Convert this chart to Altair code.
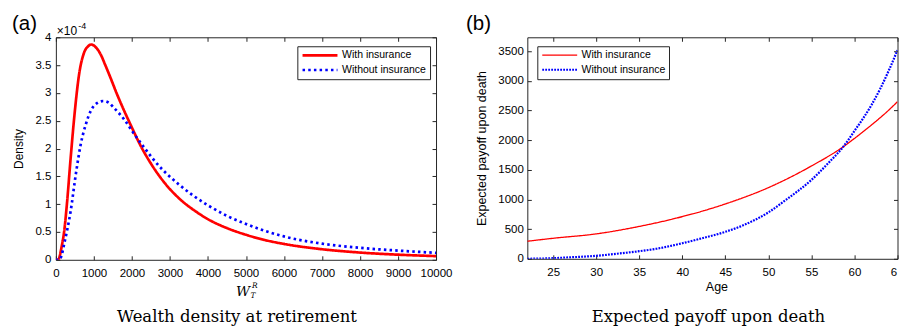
import altair as alt
import pandas as pd

# ---------------- data: panel (a) wealth density (units of 1e-4) ----------------
W_RED = [0, 60, 150, 220, 290, 390, 500, 610, 740, 850, 930, 1050, 1180, 1300, 1450,
         1600, 1750, 1970, 2230, 2500, 2840, 3280, 3700, 4000, 4500, 5000, 5500,
         6000, 7000, 8000, 9000, 10000]
D_RED = [0, 0, 0.23, 0.52, 1.0, 1.84, 2.68, 3.33, 3.72, 3.84, 3.87, 3.82, 3.69, 3.5, 3.25,
         2.99, 2.75, 2.42, 2.05, 1.73, 1.40, 1.08, 0.86, 0.73, 0.57, 0.45, 0.355,
         0.285, 0.19, 0.13, 0.092, 0.066]
W_BLUE = [0, 100, 150, 220, 390, 525, 655, 790, 920, 1090, 1250, 1400, 1530, 1790, 2060,
          2320, 2670, 3020, 3280, 3600, 4000, 4500, 5000, 5500, 6000, 7000, 8000, 9000, 10000]
D_BLUE = [0, 0, 0.08, 0.29, 0.88, 1.54, 2.08, 2.44, 2.68, 2.82, 2.855, 2.82, 2.73, 2.53, 2.26,
          2.02, 1.72, 1.48, 1.33, 1.16, 0.98, 0.79, 0.645, 0.52, 0.42, 0.29, 0.215, 0.165, 0.125]

# ---------------- data: panel (b) expected payoff upon death ----------------
AGE_RED = [22, 25, 30, 35, 40, 45, 50, 55, 58.7, 60, 62, 64, 65]
PAY_RED = [296, 346, 420, 546, 711, 925, 1200, 1565, 1890, 2030, 2260, 2510, 2650]
AGE_BLUE = [22, 25, 27, 30, 33, 35, 37, 40, 42, 45, 47, 50, 52, 55, 57, 58.7, 60, 62, 63, 64, 65]
PAY_BLUE = [0, 10, 25, 50, 95, 128, 170, 262, 335, 455, 560, 783, 990, 1330, 1620, 1890,
            2156, 2600, 2870, 3180, 3520]

SERIES = ["With insurance", "Without insurance"]
COLORS = ["#ff0000", "#0000ff"]

X_TICKS_A = [0, 1000, 2000, 3000, 4000, 5000, 6000, 7000, 8000, 9000, 10000]
Y_TICKS_A = [0, 0.5, 1, 1.5, 2, 2.5, 3, 3.5, 4]
X_TICKS_B = [25, 30, 35, 40, 45, 50, 55, 60, 65]
Y_TICKS_B = [0, 500, 1000, 1500, 2000, 2500, 3000, 3500]

TITLE_A = "Wealth density at retirement"
TITLE_B = "Expected payoff upon death"

AX = "#262626"
SANS = "Liberation Sans"
SERIF = "DejaVu Serif"

df_a = pd.concat([
    pd.DataFrame({"x": W_RED, "y": D_RED, "series": SERIES[0]}),
    pd.DataFrame({"x": W_BLUE, "y": D_BLUE, "series": SERIES[1]}),
])
df_b = pd.concat([
    pd.DataFrame({"x": AGE_RED, "y": PAY_RED, "series": SERIES[0]}),
    pd.DataFrame({"x": AGE_BLUE, "y": PAY_BLUE, "series": SERIES[1]}),
])


def label(text, x, y, size, font=SANS, align="left", style="normal", baseline="alphabetic", **kw):
    return alt.Chart(pd.DataFrame({"t": [text]})).mark_text(
        font=font, fontSize=size, align=align, baseline=baseline, fontStyle=style,
        color="black", **kw
    ).encode(x=alt.value(x), y=alt.value(y), text="t:N")


def panel(df, xdom, ydom, xticks, yticks, xfmt, yfmt, xtitle, ytitle, ytitle_x, ytitle_size,
          widths, dashes, leg_x, leg_y, width, height, lab_pad_y, extra, xlabel_expr=None):
    xs = alt.Scale(domain=xdom, nice=False, zero=False)
    ys = alt.Scale(domain=ydom, nice=False, zero=False)
    leg = alt.Legend(
        title=None, orient="none", legendX=leg_x, legendY=leg_y, direction="vertical",
        strokeColor=AX, fillColor="white", padding=3.6, cornerRadius=0,
        labelFont=SANS, labelFontSize=10.5, labelColor="black", labelOffset=30.2,
        symbolType="M-1,0H8", symbolSize=60.5, rowPadding=3.7, labelLimit=300,
    )
    xaxis_kw = dict(orient="bottom", values=xticks, ticks=False, domain=False, grid=False,
                    labelPadding=8, labelFont=SANS, labelFontSize=11.5, labelColor="black",
                    labelFontWeight="normal", labelFlush=False, format=xfmt)
    if xlabel_expr:
        xaxis_kw.update(labelExpr=xlabel_expr)
    if xtitle:
        xaxis_kw.update(title=xtitle, titleFont=SANS, titleFontSize=12.5, titleFontWeight="normal",
                        titleColor="black", titleBaseline="alphabetic", titleX=189.5, titleY=31.7,
                        titleAlign="center")
    else:
        xaxis_kw.update(title=None)
    lines = alt.Chart(df).mark_line(interpolate="monotone", strokeCap="butt", clip=True).encode(
        x=alt.X("x:Q", scale=xs, axis=alt.Axis(**xaxis_kw)),
        y=alt.Y("y:Q", scale=ys, axis=alt.Axis(
            orient="left", values=yticks, ticks=False, domain=False, grid=False,
            labelPadding=lab_pad_y, labelFont=SANS, labelFontSize=11.5, labelColor="black",
            labelFlush=False, format=yfmt,
            title=ytitle, titleFont=SANS, titleFontSize=ytitle_size, titleFontWeight="normal",
            titleColor="black", titleAngle=270, titleAlign="center", titleBaseline="middle",
            titleX=ytitle_x, titleY=height / 2)),
        color=alt.Color("series:N", scale=alt.Scale(domain=SERIES, range=COLORS), legend=leg),
        strokeDash=alt.StrokeDash("series:N", scale=alt.Scale(domain=SERIES, range=dashes), legend=leg),
        strokeWidth=alt.StrokeWidth("series:N", scale=alt.Scale(domain=SERIES, range=widths), legend=leg),
        order=alt.Order("x:Q"),
    )
    tick_kw = dict(offset=-4, labels=False, domain=False, ticks=True, tickSize=4,
                   tickColor=AX, tickWidth=1, title=None, grid=False)
    inner1 = alt.Chart(df).mark_line(strokeOpacity=0).encode(
        x=alt.X("x:Q", scale=xs, axis=alt.Axis(orient="bottom", values=xticks, **tick_kw)),
        y=alt.Y("y:Q", scale=ys, axis=alt.Axis(orient="left", values=yticks, **tick_kw)),
        detail="series:N",
    )
    inner2 = alt.Chart(df).mark_line(strokeOpacity=0).encode(
        x=alt.X("x:Q", scale=xs, axis=alt.Axis(orient="top", values=xticks, **tick_kw)),
        y=alt.Y("y:Q", scale=ys, axis=alt.Axis(orient="right", values=yticks, **tick_kw)),
        detail="series:N",
    )
    return alt.layer(lines, inner1, inner2, *extra).resolve_axis(
        x="independent", y="independent"
    ).properties(width=width, height=height)


# panel (a) origin on the page: (55, 36)
frame = alt.Chart(pd.DataFrame({"k": [0]})).mark_rect(opacity=0).encode(
    x=alt.value(-55), x2=alt.value(845), y=alt.value(-36), y2=alt.value(292))
extra_a = [
    frame,
    label("(a)", -44, -7.3, 20.5),
    label("\u00d710", 1, -2.5, 12),
    label("-4", 22.5, -8.5, 9),
    label("W", 180.5, 259.3, 13.7, font=SERIF, style="italic"),
    label("T", 195, 261.2, 7.5, font=SERIF, style="italic"),
    label("R", 196.5, 251.2, 7.5, font=SERIF, style="italic"),
    label(TITLE_A, 181.5, 285, 16.5, font=SERIF, align="center"),
]
# panel (b) origin on the page: (527.5, 36); the last tick label is cut by the page edge
extra_b = [
    label("(b)", -61.5, -7.3, 20.5),
    label(TITLE_B, 181.5, 285, 16.5, font=SERIF, align="center"),
    label(str(X_TICKS_B[-1]), 364.3, 230, 11.5, baseline="top", limit=9, ellipsis="\u200b"),
]

pa = panel(df_a, [0, 10000], [0, 4], X_TICKS_A, Y_TICKS_A, "d", "~g", None, "Density", -37.5, 12,
           [2.7, 2.7], [[1, 0], [2.5, 3.2]], 242, 9, 381, 223, 5, extra_a)
pb = panel(df_b, [22, 65], [0, 3736], X_TICKS_B, Y_TICKS_B, "d", "d", "Age",
           "Expected payoff upon death", -45.5, 12.5, [1.3, 2.2], [[1, 0], [1.8, 1.2]],
           10, 9, 371, 222, 4, extra_b,
           xlabel_expr="datum.value == %d ? '' : datum.label" % X_TICKS_B[-1])

chart = alt.hconcat(pa, pb, spacing=91.5, bounds="flush").resolve_scale(
    color="independent", strokeDash="independent", strokeWidth="independent"
).resolve_legend(
    color="independent", strokeDash="independent", strokeWidth="independent"
).properties(
    autosize=alt.AutoSizeParams(type="pad"), padding=0, background="white"
).configure_view(stroke=AX, strokeWidth=1)

chart.save("out.html", embed_options={"renderer": "svg", "actions": False})
